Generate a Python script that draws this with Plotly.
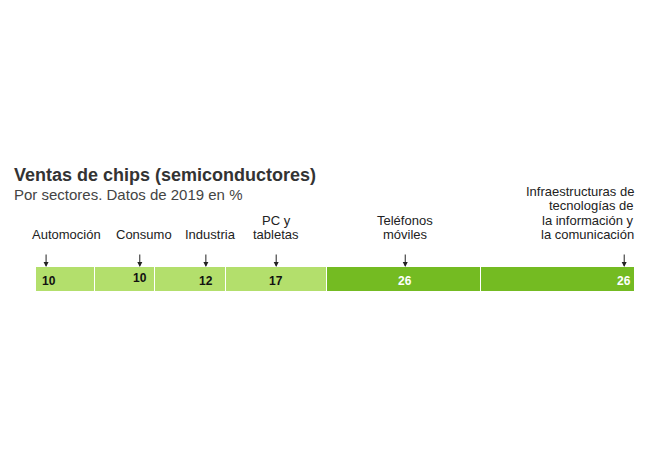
import plotly.graph_objects as go

sectors = ["Automoción", "Consumo", "Industria", "PC y<br>tabletas",
           "Teléfonos<br>móviles",
           "Infraestructuras de<br>tecnologías de<br>la información y<br>la comunicación"]
values = [10, 10, 12, 17, 26, 26]
colors = ["#b3df6c", "#b3df6c", "#b3df6c", "#b3df6c", "#74bb22", "#74bb22"]
value_colors = ["#111111"] * 4 + ["#ffffff"] * 2

# fractional position of arrow within each segment (layout)
arrow_frac = [0.17, 0.75, 0.72, 0.5, 0.51, 0.93]
label_shift = [20, 4, 5, 0, 0, 0]  # px shift of text relative to arrow
label_align = ["center"] * 5 + ["right"]
value_dy = [0, 3, 0, 0, 0, 0]

W, H = 650, 450
L, R, T, B = 36, 15, 267, 158
FONT = "Liberation Sans, Arial, sans-serif"
LINE = 14.5

fig = go.Figure()
starts = []
acc = 0
for s, v, c in zip(sectors, values, colors):
    starts.append(acc)
    fig.add_trace(go.Bar(
        y=[0], x=[v], orientation="h", marker=dict(color=c, line=dict(color="white", width=1.5)),
        width=1, hoverinfo="skip", showlegend=False))
    acc += v
total = acc

ann = []
for i, (s, v) in enumerate(zip(sectors, values)):
    xa = starts[i] + v * arrow_frac[i]
    # arrow
    ann.append(dict(x=xa, y=0.5, xref="x", yref="y", text="", showarrow=True,
                    ax=0, ay=-14, arrowhead=2, arrowsize=1, arrowwidth=1,
                    arrowcolor="#222222"))
    # label lines
    lines = s.split("<br>")
    n = len(lines)
    for k, ln in enumerate(lines):
        ys = 23 + LINE * (n - 1 - k)
        if label_align[i] == "right":
            ann.append(dict(x=total, y=0.5, xref="x", yref="y", text=ln, showarrow=False,
                            xanchor="right", yanchor="bottom", yshift=ys, xshift=1,
                            font=dict(size=13, color="#222222", family=FONT)))
        else:
            ann.append(dict(x=xa, y=0.5, xref="x", yref="y", text=ln, showarrow=False,
                            xanchor="center", yanchor="bottom", yshift=ys, xshift=label_shift[i],
                            font=dict(size=13, color="#222222", family=FONT)))
    # value
    ann.append(dict(x=xa, y=0, xref="x", yref="y", text="<b>%d</b>" % v, showarrow=False,
                    xanchor="center", yanchor="middle", yshift=value_dy[i] - 1,
                    xshift=3 if i == 0 else 0,
                    font=dict(size=12, color=value_colors[i], family=FONT)))

ph = H - T - B
def py(p):
    return (H - B - p) / ph
def px(p):
    return (p - L) / (W - L - R)

ann.append(dict(x=px(12), y=py(163), xref="paper", yref="paper", xanchor="left", yanchor="top",
                text="<b>Ventas de chips (semiconductores)</b>", showarrow=False,
                font=dict(size=18, color="#333333", family=FONT)))
ann.append(dict(x=px(12), y=py(184), xref="paper", yref="paper", xanchor="left", yanchor="top",
                text="Por sectores. Datos de 2019 en %", showarrow=False,
                font=dict(size=15, color="#444444", family=FONT)))

fig.update_layout(
    width=W, height=H, barmode="stack",
    margin=dict(l=L, r=R, t=T, b=B),
    paper_bgcolor="white", plot_bgcolor="white",
    xaxis=dict(range=[0, total], visible=False, fixedrange=True),
    yaxis=dict(range=[-0.5, 0.5], visible=False, fixedrange=True),
    annotations=ann, bargap=0,
)
fig.write_html("out.html")
